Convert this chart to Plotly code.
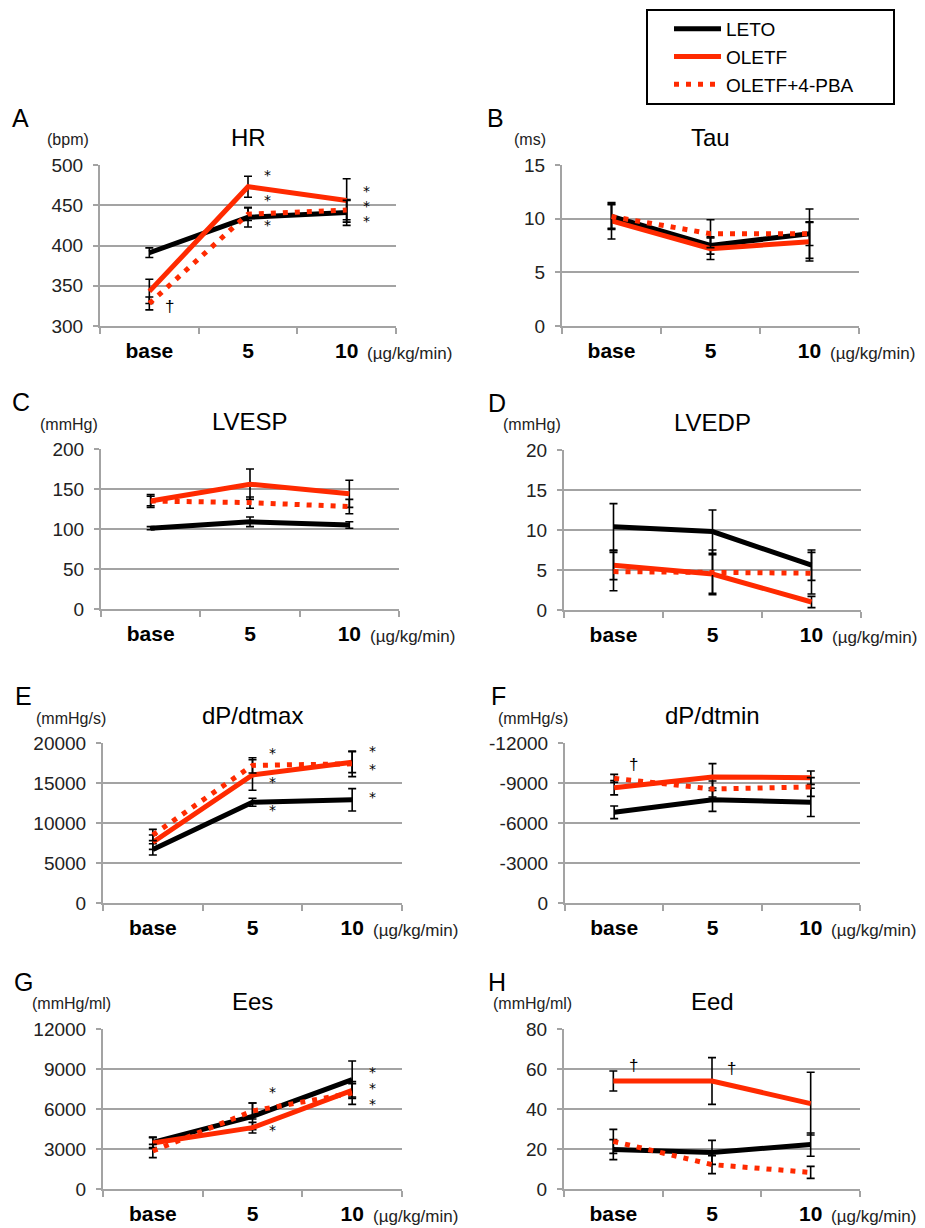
import plotly.graph_objects as go

# page is 925x1228; the html body has an 8px margin, so the figure is 917x1220
PAGE_OFF = 8
W, H = 925 - PAGE_OFF, 1228 - PAGE_OFF

categories = ["base", "5", "10"]
series_names = ["LETO", "OLETF", "OLETF+4-PBA"]

# ---- data (mean values and error bar half-widths) ----
hr_leto = [391, 435, 441];       hr_leto_err = [6, 12, 16]
hr_oletf = [343, 473, 456];      hr_oletf_err = [15, 13, 27]
hr_pba = [328, 439, 444];        hr_pba_err = [8, 8, 12]

tau_leto = [10.2, 7.5, 8.6];     tau_leto_err = [1.1, 0.8, 1.1]
tau_oletf = [9.8, 7.2, 7.85];    tau_oletf_err = [1.7, 1.0, 1.8]
tau_pba = [10.2, 8.6, 8.6];      tau_pba_err = [1.2, 1.3, 2.3]

lvesp_leto = [101, 109, 105];    lvesp_leto_err = [2, 6, 4]
lvesp_oletf = [135, 156, 144];   lvesp_oletf_err = [8, 19, 17]
lvesp_pba = [135, 133, 128];     lvesp_pba_err = [6, 7, 9]

lvedp_leto = [10.4, 9.8, 5.6];   lvedp_leto_err = [2.9, 2.7, 1.9]
lvedp_oletf = [5.6, 4.5, 1.0];   lvedp_oletf_err = [1.8, 2.4, 0.7]
lvedp_pba = [4.8, 4.7, 4.6];     lvedp_pba_err = [2.4, 2.8, 2.6]

dpmax_leto = [6700, 12600, 12900];   dpmax_leto_err = [700, 500, 1400]
dpmax_oletf = [7600, 16000, 17600];  dpmax_oletf_err = [900, 1900, 1300]
dpmax_pba = [8500, 17200, 17400];    dpmax_pba_err = [700, 950, 1600]

dpmin_leto = [-6800, -7750, -7550];  dpmin_leto_err = [470, 880, 1060]
dpmin_oletf = [-8650, -9450, -9400]; dpmin_oletf_err = [540, 1000, 500]
dpmin_pba = [-9350, -8550, -8700];   dpmin_pba_err = [300, 600, 700]

ees_leto = [3500, 5450, 8200];   ees_leto_err = [400, 1000, 1400]
ees_oletf = [3450, 4600, 7400];  ees_oletf_err = [400, 400, 500]
ees_pba = [2850, 5850, 7200];    ees_pba_err = [500, 600, 850]

eed_leto = [19.7, 18.3, 22.2];   eed_leto_err = [5, 6, 5.8]
eed_oletf = [54, 54, 42.7];      eed_oletf_err = [5, 11.7, 15.7]
eed_pba = [23.8, 12.2, 8.3];     eed_pba_err = [6, 4.5, 3]

hr_ticks = [300, 350, 400, 450, 500]
tau_ticks = [0, 5, 10, 15]
lvesp_ticks = [0, 50, 100, 150, 200]
lvedp_ticks = [0, 5, 10, 15, 20]
dpmax_ticks = [0, 5000, 10000, 15000, 20000]
dpmin_ticks = [0, -3000, -6000, -9000, -12000]
ees_ticks = [0, 3000, 6000, 9000, 12000]
eed_ticks = [0, 20, 40, 60, 80]

# significance marks: (category index, y value, symbol)
hr_marks = [(1, 487, "*"), (1, 457, "*"), (1, 426, "*"),
            (2, 468, "*"), (2, 449, "*"), (2, 430, "*"), (0, 324, "†")]
dpmax_marks = [(1, 18700, "*"), (1, 15100, "*"), (1, 11600, "*"),
               (2, 19000, "*"), (2, 16800, "*"), (2, 13200, "*")]
dpmin_marks = [(0, -10350, "†")]
ees_marks = [(1, 7300, "*"), (1, 4450, "*"),
             (2, 8800, "*"), (2, 7600, "*"), (2, 6400, "*")]
eed_marks = [(0, 62, "†"), (1, 60.5, "†")]

panels = [
    dict(letter="A", title="HR", unit="(bpm)", ticks=hr_ticks,
         series=[(hr_leto, hr_leto_err), (hr_oletf, hr_oletf_err), (hr_pba, hr_pba_err)],
         marks=hr_marks),
    dict(letter="B", title="Tau", unit="(ms)", ticks=tau_ticks,
         series=[(tau_leto, tau_leto_err), (tau_oletf, tau_oletf_err), (tau_pba, tau_pba_err)],
         marks=[]),
    dict(letter="C", title="LVESP", unit="(mmHg)", ticks=lvesp_ticks,
         series=[(lvesp_leto, lvesp_leto_err), (lvesp_oletf, lvesp_oletf_err), (lvesp_pba, lvesp_pba_err)],
         marks=[]),
    dict(letter="D", title="LVEDP", unit="(mmHg)", ticks=lvedp_ticks,
         series=[(lvedp_leto, lvedp_leto_err), (lvedp_oletf, lvedp_oletf_err), (lvedp_pba, lvedp_pba_err)],
         marks=[]),
    dict(letter="E", title="dP/dtmax", unit="(mmHg/s)", ticks=dpmax_ticks,
         series=[(dpmax_leto, dpmax_leto_err), (dpmax_oletf, dpmax_oletf_err), (dpmax_pba, dpmax_pba_err)],
         marks=dpmax_marks),
    dict(letter="F", title="dP/dtmin", unit="(mmHg/s)", ticks=dpmin_ticks,
         series=[(dpmin_leto, dpmin_leto_err), (dpmin_oletf, dpmin_oletf_err), (dpmin_pba, dpmin_pba_err)],
         marks=dpmin_marks),
    dict(letter="G", title="Ees", unit="(mmHg/ml)", ticks=ees_ticks,
         series=[(ees_leto, ees_leto_err), (ees_oletf, ees_oletf_err), (ees_pba, ees_pba_err)],
         marks=ees_marks),
    dict(letter="H", title="Eed", unit="(mmHg/ml)", ticks=eed_ticks,
         series=[(eed_leto, eed_leto_err), (eed_oletf, eed_oletf_err), (eed_pba, eed_pba_err)],
         marks=eed_marks),
]

# page-pixel boxes of the plot areas (left, top, right, bottom)
boxes = [
    (100, 165, 396, 326), (562, 165, 859, 326),
    (101, 449, 399, 609), (564, 450, 861, 610),
    (103, 743, 402, 903), (565, 743, 860, 903),
    (103, 1029, 402, 1189), (564, 1029, 860, 1189),
]

RED = "#ff2a00"
GRAY = "#a3a3a3"
FONT = "Liberation Sans, Arial, sans-serif"
styles = [
    dict(color="black", width=5, dash="solid"),
    dict(color=RED, width=5, dash="solid"),
    dict(color=RED, width=5, dash="5px,7px"),
]


def px(x):
    return (x - PAGE_OFF) / W


def py(y):
    return 1 - (y - PAGE_OFF) / H


fig = go.Figure()
annotations = []
xcat = list(range(len(categories)))

for i, p in enumerate(panels):
    n = i + 1
    xa = "x" if n == 1 else f"x{n}"
    ya = "y" if n == 1 else f"y{n}"
    l, t, r, b = boxes[i]
    for j, (vals, errs) in enumerate(p["series"]):
        st = styles[j]
        fig.add_trace(go.Scatter(
            x=xcat, y=vals, mode="lines", name=series_names[j],
            line=dict(color=st["color"], width=st["width"], dash=st["dash"]),
            error_y=dict(type="data", array=errs, visible=True, color="black",
                         thickness=1.6, width=4),
            xaxis=xa, yaxis=ya, showlegend=(i == 0), hoverinfo="skip",
        ))
    ticks = p["ticks"]
    rng = [ticks[0], ticks[-1]]
    fig.layout[("xaxis" if n == 1 else f"xaxis{n}")] = dict(
        domain=[px(l), px(r)], anchor=ya, range=[-0.5, len(categories) - 0.5],
        tickmode="array", tickvals=xcat, ticktext=categories, ticks="",
        showline=True, linecolor=GRAY, linewidth=2, showgrid=False, zeroline=False,
        tickfont=dict(family=FONT, size=21, color="black", weight="bold"),
        ticklabelstandoff=5, automargin=False,
        minor=dict(tick0=-0.5, dtick=1, ticks="outside", ticklen=6,
                   tickcolor=GRAY, tickwidth=2, showgrid=False),
        fixedrange=True,
    )
    fig.layout[("yaxis" if n == 1 else f"yaxis{n}")] = dict(
        domain=[py(b), py(t)], anchor=xa, range=rng,
        tickmode="array", tickvals=ticks, ticktext=[str(v) for v in ticks],
        ticks="outside", ticklen=5, tickcolor=GRAY, tickwidth=2,
        showline=True, linecolor=GRAY, linewidth=2,
        showgrid=True, gridcolor=GRAY, gridwidth=2, zeroline=False,
        tickfont=dict(family=FONT, size=19, color="#222222"),
        ticklabelstandoff=6, automargin=False,
        fixedrange=True,
    )
    cx = (l + r) / 2
    annotations.append(dict(text=p["title"], x=px(cx), y=py(t - 28), xref="paper", yref="paper",
                            showarrow=False, xanchor="center", yanchor="middle",
                            font=dict(family=FONT, size=24, color="black")))
    annotations.append(dict(text=p["letter"], x=px(l - 80 if i % 2 == 0 else l - 67),
                            y=py(t - 47), xref="paper", yref="paper",
                            showarrow=False, xanchor="center", yanchor="middle",
                            font=dict(family=FONT, size=25, color="black")))
    annotations.append(dict(text=p["unit"], x=px(l - 32), y=py(t - 25), xref="paper", yref="paper",
                            showarrow=False, xanchor="center", yanchor="middle",
                            font=dict(family=FONT, size=16, color="#222222")))
    annotations.append(dict(text="(µg/kg/min)", x=px(r - 31), y=py(b + 27), xref="paper", yref="paper",
                            showarrow=False, xanchor="left", yanchor="middle",
                            font=dict(family=FONT, size=17, color="#222222")))
    for (ci, yv, sym) in p["marks"]:
        annotations.append(dict(text=sym, x=ci + 0.2, y=yv,
                                xref=xa, yref=ya, showarrow=False,
                                xanchor="center", yanchor="middle",
                                font=dict(family="DejaVu Sans" if sym == "*" else FONT,
                                          size=14 if sym == "*" else 17, color="black")))

shapes = [dict(type="rect", xref="paper", yref="paper",
               x0=px(647), x1=px(894), y0=py(104), y1=py(10),
               line=dict(color="black", width=2), fillcolor="rgba(0,0,0,0)")]

fig.update_layout(
    template="none",
    width=W, height=H,
    margin=dict(l=0, r=0, t=0, b=0, pad=0, autoexpand=False),
    paper_bgcolor="white", plot_bgcolor="white",
    font=dict(family=FONT, color="black"),
    showlegend=True,
    legend=dict(x=px(669), y=py(10), xanchor="left", yanchor="top",
                bgcolor="rgba(0,0,0,0)", borderwidth=0,
                font=dict(family=FONT, size=19, color="black"),
                itemwidth=47, tracegroupgap=0),
    annotations=annotations,
    shapes=shapes,
)

fig.write_html("out.html")
